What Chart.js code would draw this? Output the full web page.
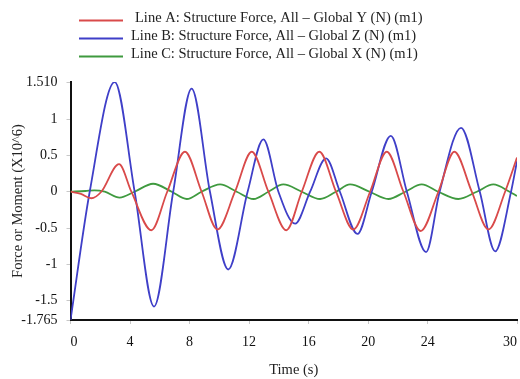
<!DOCTYPE html>
<html>
<head>
<meta charset="utf-8">
<style>
  html, body { margin: 0; padding: 0; background: #fff; }
  #wrap { width: 520px; height: 379px; position: relative; }
</style>
<script src="https://cdn.jsdelivr.net/npm/chart.js@4/dist/chart.umd.min.js"></script>
</head>
<body>
<div id="wrap"><canvas id="c" width="520" height="379"></canvas></div>
<script>
// ---- Data ----
const seriesLabels = [
  "Line A: Structure Force, All \u2013 Global Y (N) (m1)",
  "Line B: Structure Force, All \u2013 Global Z (N) (m1)",
  "Line C: Structure Force, All \u2013 Global X (N) (m1)"
];
const seriesColors = ["#d94a4a", "#3f3fc8", "#3f9a3f"];

const timeA  = [0, 0.7, 1.4, 2.07, 3.26, 4.09, 5.43, 6.5, 7.69, 8.81, 9.87, 11.05, 12.18, 13.3, 14.5, 15.54, 16.72, 17.84, 19.0, 20.13, 21.25, 22.37, 23.53, 24.72, 25.79, 26.96, 28.08, 29.2, 30];
const forceA = [0, -0.03, -0.09, 0, 0.38, 0, -0.53, 0, 0.55, 0, -0.52, 0, 0.55, 0, -0.53, 0, 0.55, 0, -0.52, 0, 0.55, 0, -0.54, 0, 0.55, 0, -0.52, 0, 0.47];

const timeB  = [0, 1.29, 2.97, 4.31, 5.61, 6.9, 8.14, 9.37, 10.6, 11.9, 12.96, 13.97, 15.09, 16.1, 17.17, 18.1, 19.28, 20.24, 21.52, 22.6, 23.89, 24.8, 26.24, 27.5, 28.53, 29.6, 30];
const forceB = [-1.765, 0, 1.51, 0, -1.58, 0, 1.42, 0, -1.07, 0, 0.72, 0, -0.44, 0, 0.46, 0, -0.58, 0, 0.77, 0, -0.83, 0, 0.88, 0, -0.82, 0, 0.42];

const timeC  = [0, 1.0, 1.6, 2.3, 3.3, 4.3, 5.55, 6.8, 7.81, 8.8, 10.05, 11.17, 12.3, 13.3, 14.3, 15.54, 16.77, 17.84, 18.78, 20.1, 21.36, 22.5, 23.6, 24.7, 26.06, 27.3, 28.41, 29.5, 30];
const forceC = [0, 0.01, 0.02, 0, -0.08, 0, 0.11, 0, -0.1, 0, 0.1, 0, -0.1, 0, 0.1, 0, -0.1, 0, 0.1, 0, -0.1, 0, 0.1, 0, -0.1, 0, 0.1, 0, -0.06];

const xTicks = [0, 4, 8, 12, 16, 20, 24, 30];
const yTicks = [1.51, 1, 0.5, 0, -0.5, -1, -1.5, -1.765];
const yTickLabels = ["1.510", "1", "0.5", "0", "-0.5", "-1", "-1.5", "-1.765"];

// ---- Build chart ----
function pts(ts, vs) { return ts.map((t, i) => ({ x: t, y: vs[i] })); }

const serif = "'Liberation Serif', 'DejaVu Serif', serif";

const legendPlugin = {
  id: 'customLegend',
  afterDraw(chart) {
    const ctx = chart.ctx;
    const rows = [
      { lineY: 20.5, textX: 135, textY: 18 },
      { lineY: 38.5, textX: 131, textY: 36.5 },
      { lineY: 56.5, textX: 131, textY: 54.5 }
    ];
    ctx.save();
    chart.data.datasets.forEach((ds, i) => {
      const r = rows[i];
      ctx.strokeStyle = ds.borderColor;
      ctx.lineWidth = 2;
      ctx.beginPath();
      ctx.moveTo(79, r.lineY);
      ctx.lineTo(123, r.lineY);
      ctx.stroke();
      ctx.fillStyle = '#222';
      ctx.font = "14.5px " + serif;
      ctx.textBaseline = 'middle';
      ctx.textAlign = 'left';
      ctx.fillText(ds.label, r.textX, r.textY);
    });
    ctx.restore();
  }
};

const datasets = [
  { label: seriesLabels[0], data: pts(timeA, forceA), borderColor: seriesColors[0] },
  { label: seriesLabels[1], data: pts(timeB, forceB), borderColor: seriesColors[1] },
  { label: seriesLabels[2], data: pts(timeC, forceC), borderColor: seriesColors[2] }
].map(d => Object.assign(d, {
  borderWidth: 1.8,
  pointRadius: 0,
  fill: false,
  cubicInterpolationMode: 'monotone'
}));

new Chart(document.getElementById('c'), {
  type: 'line',
  data: { datasets },
  options: {
    responsive: false,
    animation: false,
    layout: { padding: { top: 82, right: 3, bottom: 0, left: 0 } },
    plugins: {
      legend: { display: false },
      tooltip: { enabled: false }
    },
    scales: {
      x: {
        type: 'linear',
        min: 0, max: 30,
        afterBuildTicks(scale) { scale.ticks = xTicks.map(v => ({ value: v })); },
        afterFit(scale) { scale.height = 59; scale.paddingLeft = 0; scale.paddingRight = 0; },
        border: { display: true, color: '#111', width: 2 },
        grid: { display: true, drawOnChartArea: false, drawTicks: true, tickLength: 4, color: '#c8c8c8' },
        ticks: {
          color: '#111',
          font: { family: serif, size: 14 },
          padding: 10,
          align: 'inner',
          maxRotation: 0,
          autoSkip: false,
          callback: (v) => String(v)
        },
        title: {
          display: true,
          text: 'Time (s)',
          color: '#222',
          font: { family: serif, size: 14.5 },
          padding: { top: 0, bottom: 0 }
        }
      },
      y: {
        type: 'linear',
        min: -1.765, max: 1.51,
        afterBuildTicks(scale) { scale.ticks = yTicks.map(v => ({ value: v })); },
        afterFit(scale) { scale.width = 70.5; scale.paddingTop = 0; scale.paddingBottom = 0; },
        border: { display: true, color: '#111', width: 2 },
        grid: { display: true, drawOnChartArea: false, drawTicks: true, tickLength: 4, color: '#c8c8c8' },
        ticks: {
          color: '#111',
          font: { family: serif, size: 14 },
          padding: 9,
          autoSkip: false,
          callback: (v, i) => yTickLabels[i]
        },
        title: {
          display: true,
          text: 'Force or Moment (X10^6)',
          color: '#222',
          font: { family: serif, size: 14.5 },
          padding: { top: 9, bottom: 0 }
        }
      }
    }
  },
  plugins: [legendPlugin]
});
</script>
</body>
</html>
